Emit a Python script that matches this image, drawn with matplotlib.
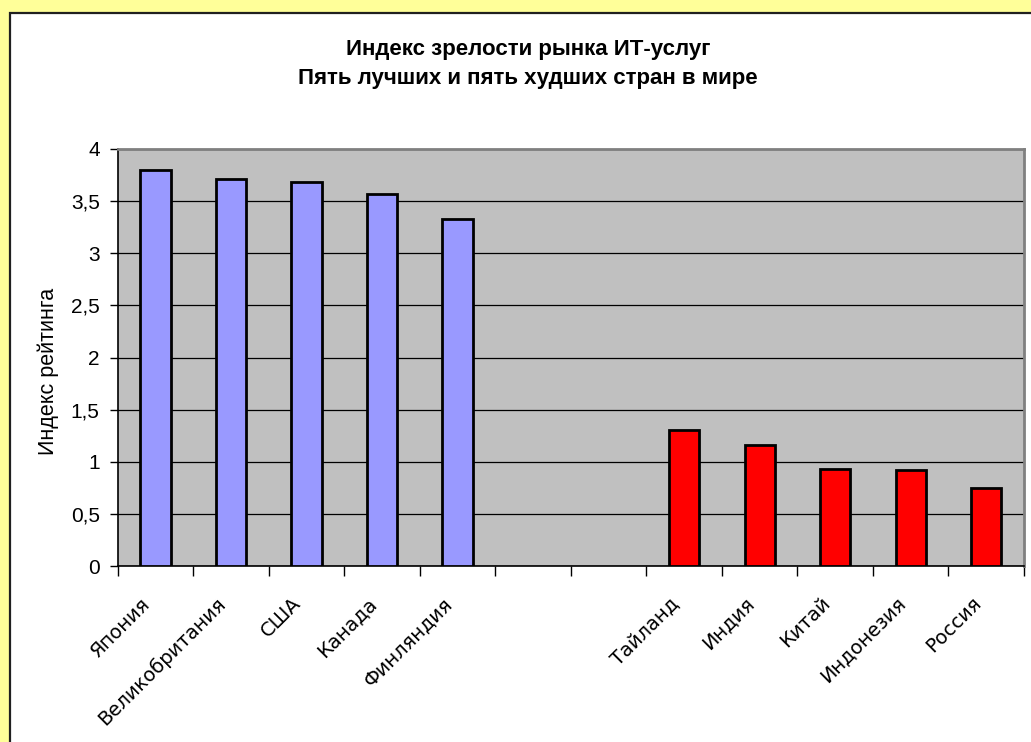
import matplotlib
matplotlib.use("Agg")
import matplotlib.pyplot as plt
import numpy as np
from matplotlib.patches import Rectangle
from matplotlib.transforms import ScaledTranslation

# Index values: five leading and five lagging countries
best_countries = ["Япония", "Великобритания", "США", "Канада", "Финляндия"]
best_values = [3.80, 3.71, 3.68, 3.57, 3.33]
worst_countries = ["Тайланд", "Индия", "Китай", "Индонезия", "Россия"]
worst_values = [1.30, 1.16, 0.93, 0.92, 0.75]

y_ticks = [0, 0.5, 1, 1.5, 2, 2.5, 3, 3.5, 4]
y_tick_labels = ["0", "0,5", "1", "1,5", "2", "2,5", "3", "3,5", "4"]

title_text = "Индекс зрелости рынка ИТ-услуг\nПять лучших и пять худших стран в мире"
y_label = "Индекс рейтинга"

W, H, DPI = 1031, 742, 100
fig = plt.figure(figsize=(W / DPI, H / DPI), dpi=DPI)
fig.patch.set_facecolor("#FFFF99")

# white chart area with a dark frame (runs past the right/bottom edges)
fig.patches.append(Rectangle((10 / W, -0.05), 1.1, (H - 13) / H + 0.05,
                             transform=fig.transFigure, facecolor="white",
                             edgecolor="#202020", linewidth=1.6, zorder=-5))

left, right, top, bottom = 117.7, 1024, 149, 566
ax = fig.add_axes([left / W, 1 - bottom / H, (right - left) / W, (bottom - top) / H])
ax.set_zorder(2)
ax.set_facecolor("#C0C0C0")

n_slots = len(best_countries) + 2 + len(worst_countries)
x_best = np.arange(len(best_countries))
x_worst = np.arange(len(worst_countries)) + len(best_countries) + 2

bar_w = 0.4
ax.bar(x_best, best_values, width=bar_w, color="#9999FF",
       edgecolor="black", linewidth=2.0, zorder=3)
ax.bar(x_worst, worst_values, width=bar_w, color="#FF0000",
       edgecolor="black", linewidth=2.0, zorder=3)

ax.set_xlim(-0.5, n_slots - 0.5)
ax.set_ylim(0, 4)

ax.set_yticks(y_ticks)
ax.set_yticklabels(y_tick_labels, fontsize=15, family="Liberation Sans")
ax.yaxis.grid(True, color="black", linewidth=0.9, zorder=1)
ax.set_axisbelow(True)
ax.tick_params(axis="y", direction="out", length=6, width=1, pad=7, color="black")

# slot boundary tick marks and centred category labels
ax.set_xticks(np.arange(n_slots + 1) - 0.5)
ax.set_xticklabels([])
ax.tick_params(axis="x", which="major", direction="out", length=7, width=1)
centers = list(x_best) + list(x_worst)
names = best_countries + worst_countries
ax.set_xticks(centers, minor=True)
ax.set_xticklabels(names, minor=True, rotation=45, ha="right",
                   rotation_mode="anchor", fontsize=14, family="DejaVu Sans")
ax.tick_params(axis="x", which="minor", length=0, pad=20)
shift = ScaledTranslation(-15 / DPI, 0, fig.dpi_scale_trans)
for lbl in ax.get_xticklabels(minor=True):
    lbl.set_transform(lbl.get_transform() + shift)

for side in ("left", "bottom"):
    ax.spines[side].set_color("black")
    ax.spines[side].set_linewidth(1.2)
for side in ("top", "right"):
    ax.spines[side].set_color("#808080")
    ax.spines[side].set_linewidth(2)

ax.set_ylabel(y_label, fontsize=15.5, family="Liberation Sans")
ax.yaxis.set_label_coords(48 / W, 0.5, transform=fig.transFigure)
ax.yaxis.label.set_va("center")

fig.text(528 / W, 1 - 64 / H, title_text, ha="center", va="center",
         fontsize=16, fontweight="bold", family="Liberation Sans",
         linespacing=1.54)

fig.savefig("out.png", dpi=DPI, facecolor=fig.get_facecolor())
